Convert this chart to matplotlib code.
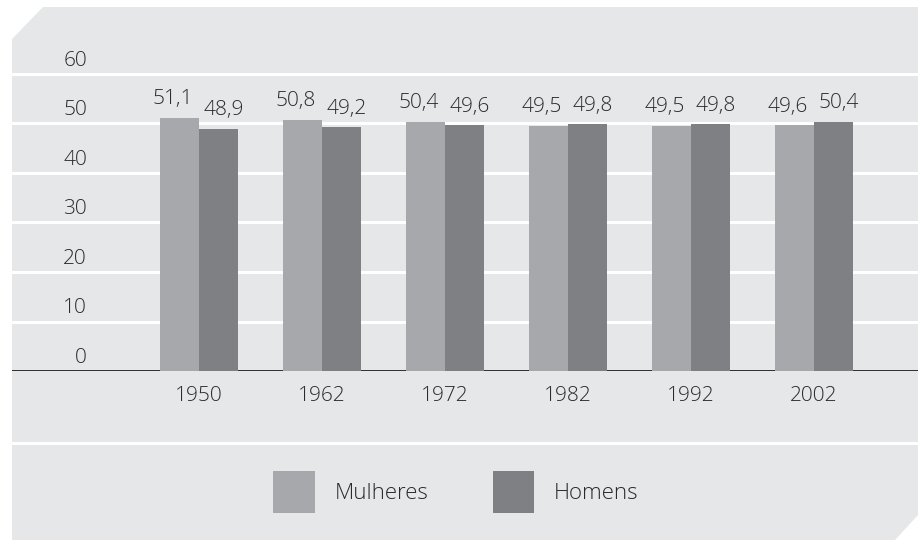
import matplotlib.pyplot as plt
import numpy as np
from matplotlib.patches import Polygon
from matplotlib.lines import Line2D

plt.rcParams['font.family'] = ['Open Sans', 'DejaVu Sans']
plt.rcParams['font.weight'] = 'light'

# data
anos = ["1950", "1962", "1972", "1982", "1992", "2002"]
mulheres = [51.1, 50.8, 50.4, 49.5, 49.5, 49.6]
homens = [48.9, 49.2, 49.6, 49.8, 49.8, 50.4]
rotulos_y = [0, 10, 20, 30, 40, 50, 60]

COR_FUNDO = "#e6e7e8"
COR_M = "#a7a8ab"
COR_H = "#7f8084"
COR_TXT = "#2b2b2b"

W, H = 918, 540
fig = plt.figure(figsize=(W / 100, H / 100), dpi=100)
fig.patch.set_facecolor("white")

# grey panel with clipped corners (pixel coords -> figure fraction)
pts = [(12, 39), (43, 7), (918, 7), (918, 515), (895, 540), (12, 540)]
panel = Polygon([(x / W, 1 - y / H) for x, y in pts], closed=True,
                transform=fig.transFigure, facecolor=COR_FUNDO,
                edgecolor="none", zorder=-5)
fig.patches.append(panel)

# axes: y=0 at px 371, 4.95 px per unit; group centres at 199 + 123*i
px_unit = 4.95
ytop = 61
ax = fig.add_axes([12 / W, 1 - 371 / H, 906 / W, ytop * px_unit / H])
ax.set_facecolor("none")
ax.set_ylim(0, ytop)
ax.set_xlim((12 - 199) / 123, (918 - 199) / 123)
for s in ax.spines.values():
    s.set_visible(False)

x = np.arange(len(anos))
w = 39 / 123

for v in rotulos_y[1:]:
    ax.axhline(v, color="white", lw=2.2, zorder=1, clip_on=False)
ax.axhline(0, color="#231f20", lw=1.3, zorder=1)

bm = ax.bar(x - w / 2, mulheres, w, color=COR_M, zorder=2, label="Mulheres")
bh = ax.bar(x + w / 2, homens, w, color=COR_H, zorder=2, label="Homens")

# value labels, nudged outward like the original
for xi, v in zip(x - w / 2, mulheres):
    ax.annotate(f"{v:.1f}".replace(".", ","), (xi, v), xytext=(-5, 10),
                textcoords="offset points", ha="center", va="baseline",
                fontsize=15, color=COR_TXT)
for xi, v in zip(x + w / 2, homens):
    ax.annotate(f"{v:.1f}".replace(".", ","), (xi, v), xytext=(4, 10),
                textcoords="offset points", ha="center", va="baseline",
                fontsize=15, color=COR_TXT)

# y labels sit just above their line, right aligned near px 87
ax.set_yticks([])
for v in rotulos_y:
    ax.annotate(str(v), (0, v), xycoords=("axes fraction", "data"),
                xytext=(54, 6), textcoords="offset points",
                ha="right", va="baseline", fontsize=15, color=COR_TXT)

ax.set_xticks(x)
ax.set_xticklabels(anos, fontsize=15, color=COR_TXT)
ax.tick_params(axis="x", length=0, pad=11)

# white separator above the legend
fig.add_artist(Line2D([12 / W, 1], [1 - 443 / H] * 2, color="white", lw=2.2,
                      transform=fig.transFigure))

fig.legend(handles=[bm, bh], loc="center", bbox_to_anchor=(456 / W, 1 - 492 / H),
           ncol=2, frameon=False, fontsize=16, handlelength=1.85, handleheight=2.5,
           handletextpad=0.9, columnspacing=2.9, labelcolor=COR_TXT)

fig.savefig("out.png", dpi=100, facecolor=fig.get_facecolor())
